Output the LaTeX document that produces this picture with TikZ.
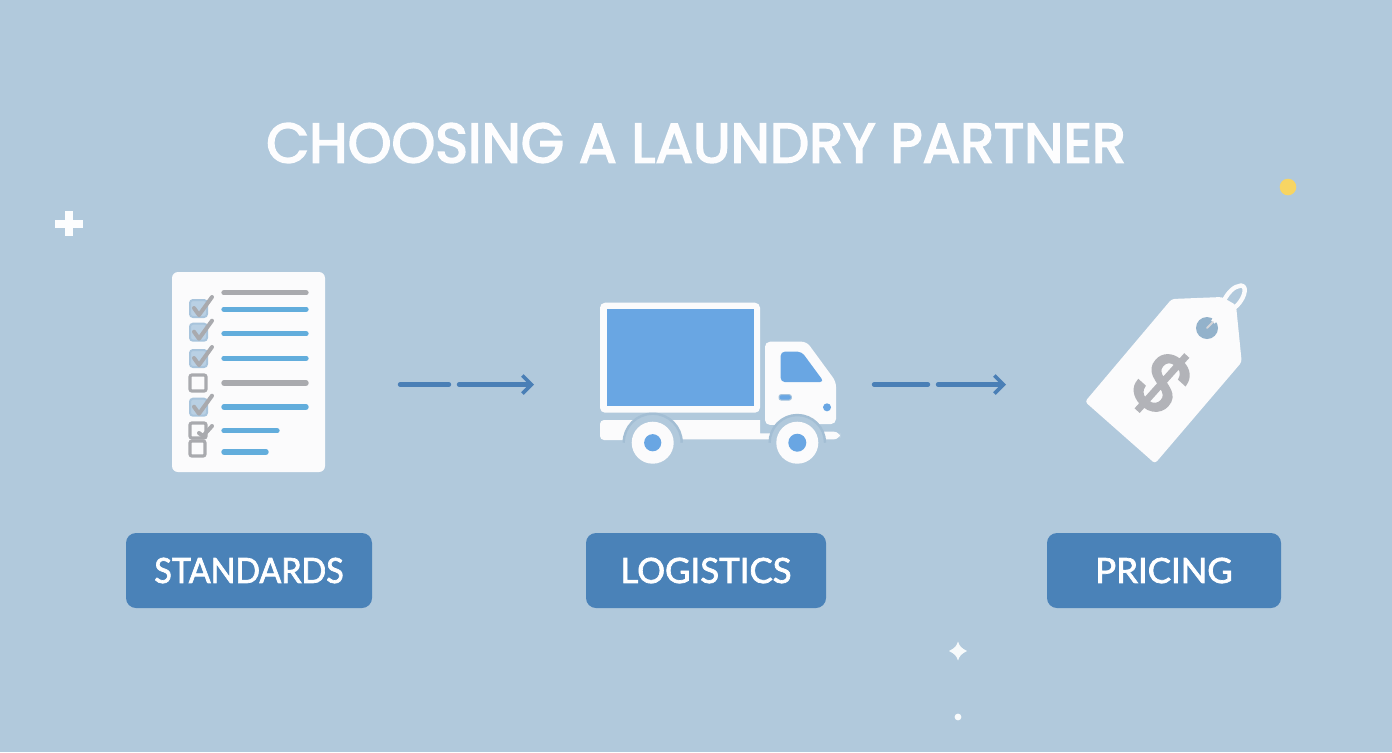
\documentclass[tikz,border=0pt]{standalone}
\usepackage{fontspec}
\usetikzlibrary{arrows.meta}
\newfontfamily\ttlfont{Poppins}[FakeBold=3]
\newfontfamily\lblfont{Lato}[FakeBold=2]
\newfontfamily\dolfont{Poppins}[FakeBold=3]
\definecolor{bgc}{HTML}{B1C9DC}
\definecolor{bgd}{HTML}{A3BED4}
\definecolor{paper}{HTML}{FBFBFC}
\definecolor{linegrey}{HTML}{A9AAAE}
\definecolor{dollarc}{HTML}{B2B3B8}
\definecolor{lineblue}{HTML}{62ADDC}
\definecolor{truckblue}{HTML}{69A6E3}
\definecolor{btn}{HTML}{4A82B8}
\definecolor{arrowc}{HTML}{4A7FB6}
\definecolor{boxfill}{HTML}{B9D0E4}
\definecolor{boxedge}{HTML}{A8C4DC}
\definecolor{holec}{HTML}{93B2CB}
\definecolor{spark}{HTML}{F7D563}
\tikzset{
  x=0.5pt,y=-0.5pt,
  titletext/.style={text=white!97!bgc,font=\ttlfont\fontsize{27.85}{30}\selectfont,inner sep=0},
  labelbox/.style={fill=btn,rounded corners=5pt,minimum height=37.5pt,inner sep=0,text=white,font=\lblfont\fontsize{17.4}{20}\selectfont},
  rowline/.style={line width=2.7pt,line cap=round},
  greyrow/.style={rowline,draw=linegrey},
  bluerow/.style={rowline,draw=lineblue},
  tickmark/.style={draw=linegrey,line width=2pt,line cap=round,line join=round},
  cbon/.style={fill=boxfill,draw=boxedge,line width=1pt,rounded corners=1.5pt},
  cboff/.style={draw=linegrey,line width=1.6pt,fill=paper,rounded corners=1pt},
  whitepart/.style={fill=paper,draw=none},
  conn/.style={draw=arrowc,line width=2.2pt,line cap=round},
  connhead/.style={conn,-{Straight Barb[length=4.5pt,width=9pt,line width=1.8pt]}}
}
\newcommand{\cbtick}[1]{%
  \draw[cbon] (190,#1-8) rectangle (207,#1+9);
  \draw[tickmark] (194,#1) -- (199,#1+7) -- (212,#1-11);
}
\begin{document}
\begin{tikzpicture}
\path[use as bounding box,fill=bgc] (0,0) rectangle (1392,752);

\node[titletext] (title) at (696,143) {CHOOSING A LAUNDRY PARTNER};

% sparkles
\fill[white!96!bgc] (65,211) rectangle (73,236);
\fill[white!96!bgc] (55,219.5) rectangle (83,228);
\fill[white!90!bgc] (958,641.5) .. controls (959.5,646) and (961,648) .. (967,651) .. controls (961,654) and (959.5,656) .. (958,660.5) .. controls (956.5,656) and (955,654) .. (949,651) .. controls (955,648) and (956.5,646) .. (958,641.5) -- cycle;
\fill[white!92!bgc] (958,717) circle (3.4);
\fill[spark] (1288,187) circle (8.3);

% document
\node[whitepart,rounded corners=3pt,minimum width=76.5pt,minimum height=100pt,inner sep=0] (doc) at (248.5,372) {};
\draw[greyrow] (224,292.7) -- (306,292.7);
\draw[bluerow] (224,309.3) -- (306,309.3);
\draw[bluerow] (224,333.7) -- (306,333.7);
\draw[bluerow] (224,358.3) -- (306,358.3);
\draw[greyrow] (224,383) -- (306,383);
\draw[bluerow] (224,407) -- (306,407);
\draw[bluerow] (224,430.7) -- (277,430.7);
\draw[bluerow] (224,452) -- (266,452);
\cbtick{308}
\cbtick{331.7}
\cbtick{358}
\draw[cboff] (190,375) rectangle (206,391);
\cbtick{406.7}
\draw[cboff] (190,423) rectangle (206,438);
\draw[tickmark] (199,433) -- (203,436) -- (212,426);
\draw[cboff] (190,441) rectangle (205,456);

% truck
\node[whitepart,rounded corners=2.5pt,minimum width=80pt,minimum height=55pt,inner sep=0] (box) at (680,357.7) {};
\fill[truckblue] (606.7,308.7) rectangle (754,406);
\fill[whitepart,rounded corners=2.5pt] (765,341.7) -- (806.7,341.7) -- (836,381.7) -- (836,424) -- (765,425) -- cycle;
\fill[truckblue,rounded corners=2pt] (780.7,351.7) -- (801.7,351.7) -- (824,382) -- (780.7,382) -- cycle;
\fill[truckblue,draw=boxedge,line width=.5pt,rounded corners=1pt] (779,394.7) rectangle (791.3,400);
\fill[truckblue] (827,407.3) circle (4);
\fill[whitepart,rounded corners=2pt] (600,420) -- (640,420) -- (640,440) -- (600,440) -- cycle;
\fill[whitepart] (665,420) -- (760,420) -- (760,433.3) -- (775,433.3) -- (775,439.3) -- (665,439.3) -- cycle;
\fill[whitepart,rounded corners=3pt] (815,431.7) rectangle (840,439.3);
\fill[bgc] (652.7,442.7) circle (29);
\fill[bgc] (797.3,442.7) circle (27.7);
\draw[bgd,line width=1.2pt] (623.7,442.7) arc[start angle=180,end angle=360,radius=29];
\draw[bgd,line width=1.2pt] (769.6,442.7) arc[start angle=180,end angle=360,radius=27.7];
\node[circle,whitepart,minimum size=21pt,inner sep=0] (wheelA) at (652.7,442.7) {};
\node[circle,whitepart,minimum size=21pt,inner sep=0] (wheelB) at (797.3,442.7) {};
\fill[truckblue] (wheelA) circle (8.6);
\fill[truckblue] (wheelB) circle (9);

% tag
\fill[whitepart,rounded corners=1.5pt] (1171.7,299) -- (1222,297) -- (1236,305) -- (1241.7,362) -- (1155,463.5) -- (1085,401.7) -- cycle;
\node[circle,fill=holec,minimum size=11pt,inner sep=0] (hole) at (1207,328) {};
\coordinate (knot) at (1213,322);
\draw[paper,line width=2.2pt,line join=round] (knot) .. controls (1220,311) and (1226,287) .. (1241,285.5) .. controls (1249,286) and (1243,302) .. (1234,308) .. controls (1226,313) and (1219,316) .. (knot);
\draw[linegrey!45!paper,line width=1pt,line cap=round] (hole.center) -- (knot);
\node[text=dollarc,font=\dolfont\fontsize{41}{41}\selectfont,rotate=-42,inner sep=0] (dollar) at (1163,384) {\$};

% connectors
\coordinate (a1) at (400,384.5);
\coordinate (a2) at (449,384.5);
\coordinate (a3) at (459,384.5);
\coordinate (a4) at (534,384.5);
\coordinate (b1) at (874,384.5);
\coordinate (b2) at (928,384.5);
\coordinate (b3) at (938,384.5);
\coordinate (b4) at (1006,384.5);
\draw[conn] (a1) -- (a2);
\draw[connhead] (a3) -- (a4);
\draw[conn] (b1) -- (b2);
\draw[connhead] (b3) -- (b4);

% labels
\node[labelbox,minimum width=123pt] (standards) at (249,570.5) {\scalebox{0.93}[1]{STANDARDS}};
\node[labelbox,minimum width=120pt] (logistics) at (706,570.5) {LOGISTICS};
\node[labelbox,minimum width=117pt] (pricing) at (1164,570.5) {PRICING};
\end{tikzpicture}
\end{document}
